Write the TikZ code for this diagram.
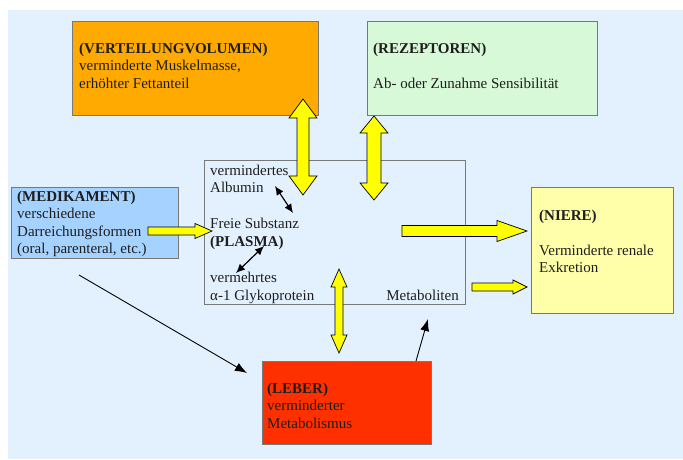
\documentclass[tikz,border=0pt]{standalone}
\usepackage{fontspec}
\setmainfont{Liberation Serif}
\usetikzlibrary{arrows.meta}
\definecolor{bgblue}{RGB}{227,241,255}
\definecolor{orangebox}{RGB}{255,170,0}
\definecolor{greenbox}{RGB}{215,249,215}
\definecolor{bluebox}{RGB}{166,210,255}
\definecolor{yellowbox}{RGB}{255,255,170}
\definecolor{redbox}{RGB}{255,48,0}
\definecolor{boxline}{RGB}{120,120,120}
\definecolor{arrowyellow}{RGB}{255,255,0}
\definecolor{txtcol}{RGB}{30,30,30}
\newcommand\hblk[6]{% x1, x2, y, shaft half, head half, head length
  \draw[blk] (#1,#3-#4) -- (#2-#6,#3-#4) -- (#2-#6,#3-#5) -- (#2,#3) -- (#2-#6,#3+#5) -- (#2-#6,#3+#4) -- (#1,#3+#4) -- cycle;}
\newcommand\vdblk[6]{% x, ytop, ybot, shaft half, head half, head length
  \draw[blk] (#1,#2) -- (#1+#5,#2+#6) -- (#1+#4,#2+#6) -- (#1+#4,#3-#6) -- (#1+#5,#3-#6) -- (#1,#3) -- (#1-#5,#3-#6) -- (#1-#4,#3-#6) -- (#1-#4,#2+#6) -- (#1-#5,#2+#6) -- cycle;}
\tikzset{
  box/.style={draw=boxline, line width=0.9pt, inner sep=0pt, anchor=north west},
  txt/.style={anchor=base west, inner sep=0pt, text=txtcol, font=\fontsize{15}{17}\selectfont},
  blk/.style={draw=black, line width=0.7pt, fill=arrowyellow, line join=miter},
  thin/.style={draw=black, line width=0.9pt, -{Latex[length=12pt,width=9pt]}},
  small/.style={draw=black, line width=1.2pt, {Latex[length=9pt,width=8pt]}-{Latex[length=9pt,width=8pt]}}
}
\begin{document}
\begin{tikzpicture}[x=1pt,y=-1pt]
\useasboundingbox (0,0) rectangle (683,459);
\fill[bgblue] (8,10) rectangle (683,459);
% boxes
\node[box, fill=orangebox, minimum width=246pt, minimum height=94pt] (vert) at (72,21) {};
\node[box, fill=greenbox, minimum width=230pt, minimum height=94pt] (rez) at (367,21) {};
\node[box, fill=bluebox, minimum width=167pt, minimum height=71pt] (med) at (11,187) {};
\node[box, minimum width=261pt, minimum height=144pt] (plasma) at (204,160) {};
\node[box, fill=yellowbox, minimum width=142pt, minimum height=126pt] (niere) at (531,187) {};
\node[box, fill=redbox, minimum width=169pt, minimum height=83pt] (leber) at (262,361) {};
% texts
\node[txt] (v1) at (79,53) {\textbf{(VERTEILUNGVOLUMEN)}};
\node[txt] (v2) at (79,70.5) {verminderte Muskelmasse,};
\node[txt] (v3) at (79,88) {erhöhter Fettanteil};
\node[txt] (r1) at (373,53) {\textbf{(REZEPTOREN)}};
\node[txt] (r2) at (373,88) {Ab- oder Zunahme Sensibilität};
\node[txt] (m1) at (17,201) {\textbf{(MEDIKAMENT)}};
\node[txt] (m2) at (17,218.5) {verschiedene};
\node[txt] (m3) at (17,236) {Darreichungsformen};
\node[txt] (m4) at (17,253.5) {(oral, parenteral, etc.)};
\node[txt] (p1) at (210,175) {vermindertes};
\node[txt] (p2) at (210,192) {Albumin};
\node[txt] (p3) at (210,228) {Freie Substanz};
\node[txt] (p4) at (210,246) {\textbf{(PLASMA)}};
\node[txt] (p5) at (210,282) {vermehrtes};
\node[txt] (p6) at (210,300) {α-1 Glykoprotein};
\node[txt, anchor=base east] (p7) at (459,300) {Metaboliten};
\node[txt] (n1) at (539,220) {\textbf{(NIERE)}};
\node[txt] (n2) at (539,255) {Verminderte renale};
\node[txt] (n3) at (539,272) {Exkretion};
\node[txt] (l1) at (267,393) {\textbf{(LEBER)}};
\node[txt] (l2) at (267,410.5) {verminderter};
\node[txt] (l3) at (267,428) {Metabolismus};
% yellow block arrows
\vdblk{303}{99}{195}{6}{14}{19}
\vdblk{374}{116}{200}{7}{14}{17}
\hblk{148}{212}{231}{4}{7.5}{17}
\hblk{402}{527}{231}{5.5}{10.5}{30}
\hblk{472}{527}{287}{4}{7}{14}
\vdblk{339}{269}{353}{4}{8}{18}
% thin black arrows
\coordinate (medout) at (79,275);
\coordinate (leberin) at (247,373);
\coordinate (leberout) at (416,361);
\coordinate (metab) at (428,319);
\draw[thin] (medout) -- (leberin);
\draw[thin] (leberout) -- (metab);
% small double arrows in plasma
\coordinate (a1) at (275,186);
\coordinate (a2) at (293,213);
\coordinate (b1) at (264,246);
\coordinate (b2) at (236,273);
\draw[small] (a1) -- (a2);
\draw[small] (b1) -- (b2);
\end{tikzpicture}
\end{document}
